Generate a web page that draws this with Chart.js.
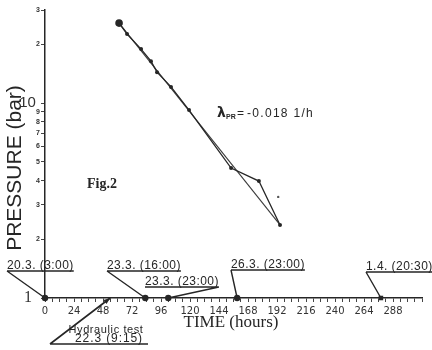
<!DOCTYPE html>
<html><head><meta charset="utf-8">
<script src="https://cdn.jsdelivr.net/npm/chart.js@4/dist/chart.umd.min.js"></script>
<style>html,body{margin:0;padding:0;background:#fff}#wrap{width:432px;height:350px;position:relative;background:#fff}</style>
</head><body><div id="wrap"><canvas id="c" width="432" height="350"></canvas></div>
<script>
// ---- data ----
const hours    = [61.3, 67.9, 79.5, 87.7, 92.7, 104.3, 119.2, 154, 177, 194.5];
const pressure = [25.7, 22.6, 18.9, 16.4, 14.4, 12.1, 9.2, 4.64, 3.98, 2.37];
const fitHours    = [61.3, 194.5];
const fitPressure = [25.7, 2.37];
const strayHours    = [193];
const strayPressure = [3.3];
const eventLabels = ['20.3. (3:00)', '23.3. (16:00)', '23.3. (23:00)', '26.3. (23:00)', '1.4. (20:30)'];
const eventHours  = [0, 83, 102, 159, 278];
const testHour   = 54;
const testLabels = ['Hydraulic test', '22.3 (9:15)'];
const xTickValues = [0,6,12,18,24,30,36,42,48,54,60,66,72,78,84,90,96,102,108,114,120,126,132,138,144,150,156,162,168,174,180,186,192,198,204,210,216,222,228,234,240,246,252,258,264,270,276,282,288,294,300,306,312];
const xTickLabels = ['0','24','48','72','96','120','144','168','192','216','240','264','288'];
const xTickLabelValues = [0,24,48,72,96,120,144,168,192,216,240,264,288];
const yTickValues = [1,2,3,4,5,6,7,8,9,10,20,30];
const yTickLabels = ['1','2','3','4','5','6','7','8','9','10','2','3'];
const yTitle = 'PRESSURE (bar)';
const xTitle = 'TIME (hours)';
const figLabel = 'Fig.2';
const lambdaValue = '-0.018 1/h';

// ---- layout / style (not data) ----
const INK = '#262626';
const calloutLayout = [
  {left: 7,   uy: 271, side: 'left'},
  {left: 107, uy: 271, side: 'left'},
  {left: 145, uy: 287, side: 'right'},
  {left: 231, uy: 270, side: 'left'},
  {left: 366, uy: 272, side: 'left'}
];

const deco = {
  id: 'deco',
  afterDraw(chart) {
    const {ctx, scales: {x, y}} = chart;
    const axisY = y.getPixelForValue(1);
    ctx.save();
    ctx.fillStyle = INK; ctx.strokeStyle = INK;

    // y title
    ctx.save();
    ctx.font = '21px "Liberation Sans", Arial, sans-serif';
    ctx.translate(21, 168); ctx.rotate(-Math.PI / 2);
    ctx.textAlign = 'center'; ctx.textBaseline = 'alphabetic';
    ctx.fillText(yTitle, 0, 0);
    ctx.restore();

    // x title
    ctx.font = '17px "Liberation Serif", "Times New Roman", serif';
    ctx.textAlign = 'center'; ctx.textBaseline = 'middle';
    ctx.fillText(xTitle, 231, 323);

    // Fig.2
    ctx.font = 'bold 14px "Liberation Serif", serif';
    ctx.textAlign = 'left';
    ctx.fillText(figLabel, 87, 184);

    // lambda annotation
    ctx.textBaseline = 'alphabetic';
    ctx.font = 'bold 14px "DejaVu Sans", sans-serif';
    ctx.fillText('λ', 217, 117);
    ctx.font = 'bold 7px "Liberation Sans", sans-serif';
    ctx.fillText('PR', 226, 119);
    ctx.font = '12px "Liberation Sans", Arial, sans-serif';
    ctx.letterSpacing = '1.3px';
    ctx.fillText('=', 237, 117);
    ctx.fillText(lambdaValue, 247, 117);
    ctx.letterSpacing = '0px';

    // callouts
    ctx.lineWidth = 1.4;
    ctx.font = '12px "Liberation Sans", Arial, sans-serif';
    ctx.letterSpacing = '0.45px';
    eventLabels.forEach((lab, i) => {
      const c = calloutLayout[i];
      const px = x.getPixelForValue(eventHours[i]);
      const w = ctx.measureText(lab).width;
      ctx.textAlign = 'left'; ctx.textBaseline = 'alphabetic';
      ctx.fillText(lab, c.left, c.uy - 2);
      ctx.beginPath();
      ctx.moveTo(c.left, c.uy); ctx.lineTo(c.left + w, c.uy);
      const sx = c.side === 'left' ? c.left : c.left + w;
      ctx.moveTo(sx, c.uy); ctx.lineTo(px, axisY);
      ctx.stroke();
    });

    // hydraulic test arrow
    const tx = x.getPixelForValue(testHour);
    ctx.font = '11px "Liberation Sans", Arial, sans-serif';
    ctx.letterSpacing = '0.6px';
    ctx.textAlign = 'center';
    ctx.fillText(testLabels[0], 106, 333);
    ctx.font = '12px "Liberation Sans", Arial, sans-serif';
    ctx.letterSpacing = '0.9px';
    ctx.fillText(testLabels[1], 109, 342);
    ctx.letterSpacing = '0px';
    ctx.beginPath();
    ctx.moveTo(50, 344); ctx.lineTo(148, 344);
    ctx.moveTo(50, 344); ctx.lineTo(tx, axisY);
    ctx.lineWidth = 1.6;
    ctx.stroke();
    const ang = Math.atan2(axisY - 344, tx - 50);
    ctx.beginPath();
    ctx.moveTo(tx, axisY);
    ctx.lineTo(tx - 7 * Math.cos(ang - 0.35), axisY - 7 * Math.sin(ang - 0.35));
    ctx.lineTo(tx - 7 * Math.cos(ang + 0.35), axisY - 7 * Math.sin(ang + 0.35));
    ctx.closePath(); ctx.fill();
    ctx.restore();
  }
};

new Chart(document.getElementById('c'), {
  type: 'scatter',
  data: {
    datasets: [
      {
        data: hours.map((h, i) => ({x: h, y: pressure[i]})),
        showLine: true, borderColor: INK, borderWidth: 1.3,
        pointRadius: hours.map((h, i) => i === 0 ? 3.8 : 2),
        pointBackgroundColor: INK, pointBorderColor: INK, pointBorderWidth: 0
      },
      {
        data: fitHours.map((h, i) => ({x: h, y: fitPressure[i]})),
        showLine: true, borderColor: '#3a3a3a', borderWidth: 1.1, pointRadius: 0
      },
      {
        data: strayHours.map((h, i) => ({x: h, y: strayPressure[i]})),
        pointRadius: 1.2, pointBackgroundColor: '#555', pointBorderColor: '#555', pointBorderWidth: 0
      },
      {
        data: eventHours.map(h => ({x: h, y: 1})),
        pointRadius: 3.2,
        pointStyle: eventHours.map((h, i) => i === eventHours.length - 1 ? 'rect' : 'circle'),
        pointBackgroundColor: INK, pointBorderColor: INK, pointBorderWidth: 0,
        clip: false
      }
    ]
  },
  options: {
    responsive: false, animation: false, devicePixelRatio: 1,
    layout: {padding: {left: 0, right: 10, top: 10, bottom: 0}},
    plugins: {legend: {display: false}, tooltip: {enabled: false}},
    scales: {
      x: {
        type: 'linear', min: 0, max: 312,
        afterFit: s => { s.height = 52; },
        afterBuildTicks: s => { s.ticks = xTickValues.map(v => ({value: v})); },
        border: {display: true, color: INK, width: 1.5},
        grid: {display: true, drawOnChartArea: false, drawTicks: true, tickLength: 4, color: '#444', lineWidth: 1},
        ticks: {
          autoSkip: false, maxRotation: 0, padding: 3, color: '#333',
          font: {family: '"DejaVu Sans", sans-serif', size: 10},
          callback: v => { const k = xTickLabelValues.indexOf(v); return k >= 0 ? xTickLabels[k] : ''; }
        }
      },
      y: {
        type: 'logarithmic', min: 1, max: 30,
        afterFit: s => { s.width = 45; },
        afterBuildTicks: s => { s.ticks = yTickValues.map(v => ({value: v})); },
        border: {display: true, color: INK, width: 1.5},
        grid: {display: true, drawOnChartArea: false, drawTicks: true, tickLength: 4, color: '#444', lineWidth: 1},
        ticks: {
          autoSkip: false, padding: 1, color: '#333',
          font: c => {
            const v = c.tick ? c.tick.value : 0;
            if (v === 1) return {family: '"Liberation Serif", serif', size: 16};
            if (v === 10) return {family: '"Liberation Sans", sans-serif', size: 15};
            return {family: '"Liberation Sans", sans-serif', size: 7, weight: 'bold'};
          },
          callback: (v, i) => yTickLabels[i] + (v === 1 ? '  ' : v === 10 ? ' ' : '')
        }
      }
    }
  },
  plugins: [deco]
});
</script>
</body></html>
